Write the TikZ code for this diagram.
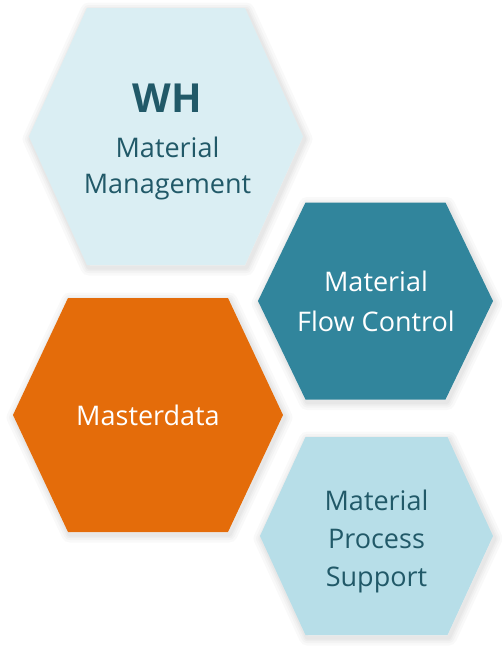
\documentclass[tikz,border=0pt]{standalone}
\usepackage{fontspec}
\setmainfont{Open Sans}
\definecolor{hexpale}{HTML}{DAEEF3}
\definecolor{hexteal}{HTML}{31859C}
\definecolor{hexorange}{HTML}{E46C0A}
\definecolor{hexlight}{HTML}{B7DEE8}
\definecolor{txtdark}{HTML}{215968}
% hexagon outline: cx, cy, half-width, half top edge, half-height
\newcommand\hexpts[5]{(#1-#3,#2) -- (#1-#4,#2-#5) -- (#1+#4,#2-#5) -- (#1+#3,#2) -- (#1+#4,#2+#5) -- (#1-#4,#2+#5) -- cycle}
\newcommand\hexglow[5]{%
  \foreach \w in {16,11,7,4}{%
    \draw[line width=\w pt, black, opacity=0.022, line join=round, shift={(1.5,2.5)}] \hexpts{#1}{#2}{#3}{#4}{#5};}%
}
\tikzset{
  hexfill/.style={line join=round},
  lbl/.style={anchor=base, inner sep=0pt, font=\fontsize{27}{32}\selectfont},
  lbldark/.style={lbl, text=txtdark},
  lbllight/.style={lbl, text=white},
  lblbig/.style={anchor=base, inner sep=0pt, text=txtdark, font=\fontsize{40}{46}\selectfont\bfseries}
}
\begin{document}
\begin{tikzpicture}[x=1pt,y=-1pt]
\useasboundingbox (0,0) rectangle (502,649);
% shadows
\hexglow{166}{136.5}{137}{79}{128.5}
\hexglow{375.5}{301}{117.5}{70}{98.5}
\hexglow{148}{415}{135}{80}{117}
\hexglow{376.5}{536}{116.5}{71}{99}
% hexagons
\fill[hexpale, hexfill] \hexpts{166}{136.5}{137}{79}{128.5};
\fill[hexteal, hexfill] \hexpts{375.5}{301}{117.5}{70}{98.5};
\fill[hexorange, hexfill] \hexpts{148}{415}{135}{80}{117};
\fill[hexlight, hexfill] \hexpts{376.5}{536}{116.5}{71}{99};
% labels
\node[lblbig]   (wh)   at (167,112) {WH};
\node[lbldark]  (wh1)  at (167.5,157) {Material};
\node[lbldark]  (wh2)  at (167.5,193.3) {Management};
\node[lbllight] (fc1)  at (376,291.7) {Material};
\node[lbllight] (fc2)  at (376,331.7) {Flow Control};
\node[lbllight] (md)   at (148,425) {Masterdata};
\node[lbldark]  (ps1)  at (376.5,510) {Material};
\node[lbldark]  (ps2)  at (376.5,548.3) {Process};
\node[lbldark]  (ps3)  at (376.5,586.7) {Support};
\end{tikzpicture}
\end{document}
